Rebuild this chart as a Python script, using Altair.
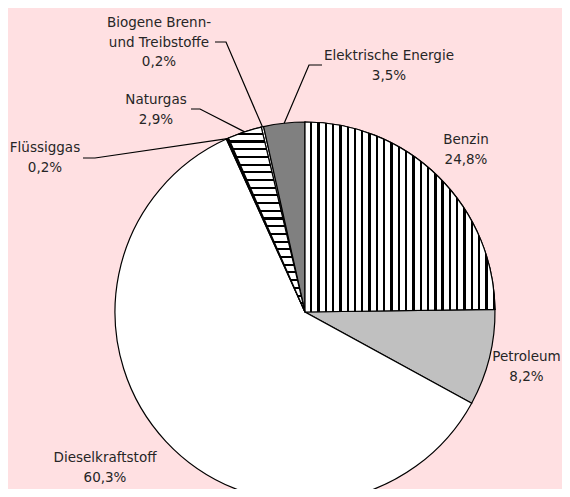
import math
import altair as alt
import pandas as pd

# ---- data ----
names = ["Benzin", "Petroleum", "Dieselkraftstoff", "Flüssiggas", "Naturgas",
         "Biogene Brenn- und Treibstoffe", "Elektrische Energie"]
values = [24.8, 8.2, 60.3, 0.2, 2.9, 0.2, 3.5]
label_lines = [["Benzin"], ["Petroleum"], ["Dieselkraftstoff"], ["Flüssiggas"], ["Naturgas"],
               ["Biogene Brenn-", "und Treibstoffe"], ["Elektrische Energie"]]
fills = ["white", "#c0c0c0", "white", "black", "white", "white", "#808080"]

# ---- layout (reference pixels; page margin subtracted below) ----
M = 8
W, H = 570 - 2 * M, 497 - 2 * M
CX, CY, R = 305 - M, 312 - M, 190
label_pos = {  # centre x, first line y
    "Benzin": (466, 140), "Petroleum": (526.5, 357), "Dieselkraftstoff": (105, 458),
    "Flüssiggas": (45, 148), "Naturgas": (156, 100),
    "Biogene Brenn- und Treibstoffe": (159, 23), "Elektrische Energie": (389, 56),
}
LINE_H = 19.5
leaders = {  # label end, elbow
    "Flüssiggas": [(83, 158), (95, 158)],
    "Naturgas": [(191, 109), (200, 109)],
    "Biogene Brenn- und Treibstoffe": [(215, 42), (226, 42)],
    "Elektrische Energie": [(322, 65), (309, 65)],
}

total = sum(values)
rows, cum = [], 0.0
for n, v, f in zip(names, values, fills):
    t0 = 2 * math.pi * cum / total
    cum += v
    t1 = 2 * math.pi * cum / total
    rows.append({"name": n, "value": v, "t0": t0, "t1": t1, "fill": f})
pie = pd.DataFrame(rows)

text_rows = []
for n, v, lines in zip(names, values, label_lines):
    x, y = label_pos[n]
    allines = lines + [f"{v:.1f}".replace(".", ",") + "%"]
    for i, t in enumerate(allines):
        text_rows.append({"name": n, "txt": t, "px": x - M, "py": y - M + i * LINE_H})
texts = pd.DataFrame(text_rows)

lead_rows = []
for n, pts in leaders.items():
    r = pie[pie.name == n].iloc[0]
    a = (r.t0 + r.t1) / 2
    allpts = [(px - M, py - M) for px, py in pts] + [(CX + R * math.sin(a), CY - R * math.cos(a))]
    for i, (px, py) in enumerate(allpts):
        lead_rows.append({"name": n, "seq": i, "px": px, "py": py})
leads = pd.DataFrame(lead_rows)


def stripes(n, black_frac, vertical):
    stops = []
    for k in range(n):
        a = k / n
        b = (k + 1 - black_frac) / n
        c = (k + 1) / n
        stops += [{"offset": a, "color": "white"}, {"offset": b, "color": "white"},
                  {"offset": b, "color": "black"}, {"offset": c, "color": "black"}]
    g = {"gradient": "linear", "stops": stops}
    if vertical:
        g.update({"x1": 0, "x2": 1, "y1": 0, "y2": 0})
    else:
        g.update({"x1": 0, "x2": 0, "y1": 0, "y2": 1})
    return g


base = alt.Chart(pie).encode(
    theta=alt.Theta("t0:Q", scale=None),
    theta2="t1",
    x=alt.value(CX),
    y=alt.value(CY),
)
arcs = base.mark_arc(outerRadius=R, stroke="black", strokeWidth=1.2).encode(
    fill=alt.Color("name:N", scale=alt.Scale(domain=names, range=fills), legend=None)
)
benzin = base.transform_filter(alt.datum.name == "Benzin").mark_arc(
    outerRadius=R, stroke="black", strokeWidth=1.2, fill=stripes(26, 0.32, True))
natur = base.transform_filter(alt.datum.name == "Naturgas").mark_arc(
    outerRadius=R, stroke="black", strokeWidth=1.2, fill=stripes(24, 0.27, False))

lines = alt.Chart(leads).mark_line(color="black", strokeWidth=1.2).encode(
    x=alt.X("px:Q", scale=None), y=alt.Y("py:Q", scale=None),
    detail="name:N", order="seq:Q")

labels = alt.Chart(texts).mark_text(
    font="DejaVu Sans", fontSize=13.5, color="#262626", align="center", baseline="middle"
).encode(x=alt.X("px:Q", scale=None), y=alt.Y("py:Q", scale=None), text="txt:N")

chart = alt.layer(arcs, benzin, natur, lines, labels).properties(
    width=W, height=H, background="#ffe0e2", padding=0,
    autosize=alt.AutoSizeParams(type="none"),
).configure_view(stroke=None)

chart.save("out.html", embed_options={"renderer": "svg", "actions": False})
